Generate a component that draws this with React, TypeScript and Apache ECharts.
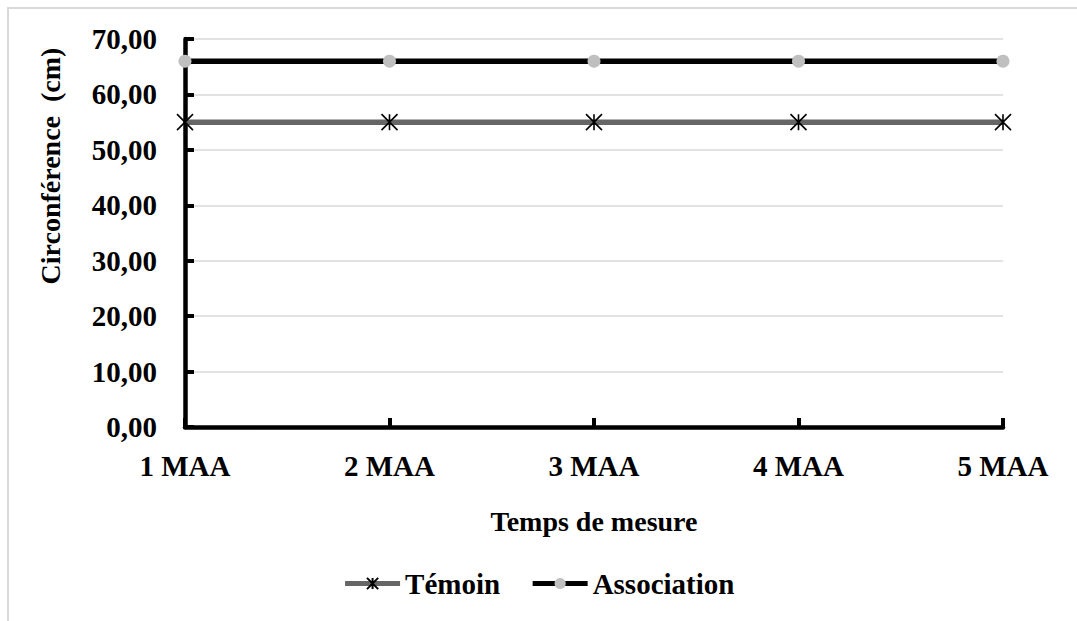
import React, { useEffect, useRef } from "react";
import * as echarts from "echarts";

const categories = ["1 MAA", "2 MAA", "3 MAA", "4 MAA", "5 MAA"];
const temoinValues = [55, 55, 55, 55, 55];
const associationValues = [66, 66, 66, 66, 66];
const yTicks = { min: 0, max: 70, interval: 10 };
const yTitle = "Circonférence  (cm)";
const xTitle = "Temps de mesure";

const FONT = "Liberation Serif, serif";
const ASTERISK = "path://M0,0L10,10M0,10L10,0M5,0L5,10";

export default function App() {
  const ref = useRef<HTMLDivElement>(null);

  useEffect(() => {
    if (!ref.current) return;
    const chart = echarts.init(ref.current, undefined, { renderer: "svg" });
    const txt = { fontFamily: FONT, fontWeight: "bold" as const, fontSize: 29, color: "#000" };
    chart.setOption({
      animation: false,
      backgroundColor: "#ffffff",
      textStyle: { fontFamily: FONT },
      graphic: [
        {
          type: "rect",
          shape: { x: 8, y: 8, width: 1200, height: 800 },
          style: { fill: "none", stroke: "#d9d9d9", lineWidth: 2 },
          silent: true,
          z: -1,
        },
        {
          type: "text",
          x: 50,
          y: 166,
          rotation: Math.PI / 2,
          style: {
            text: yTitle,
            fill: "#000",
            font: `bold 28px ${FONT}`,
            align: "center",
            verticalAlign: "middle",
          },
        },
      ],
      grid: { left: 185, right: 74, top: 39, bottom: 194, containLabel: false },
      legend: {
        bottom: 18,
        left: "center",
        itemWidth: 55,
        itemHeight: 14,
        itemGap: 30,
        textStyle: txt,
        lineStyle: { width: 5 },
        data: ["Témoin", "Association"],
      },
      xAxis: {
        type: "category",
        data: categories,
        boundaryGap: false,
        name: xTitle,
        nameLocation: "middle",
        nameGap: 80,
        nameTextStyle: { ...txt, fontSize: 28 },
        axisLine: { lineStyle: { color: "#000", width: 4.5 } },
        axisTick: { inside: true, length: 9, lineStyle: { color: "#000", width: 4 } },
        axisLabel: { ...txt, margin: 24 },
        splitLine: { show: false },
      },
      yAxis: {
        type: "value",
        min: yTicks.min,
        max: yTicks.max,
        interval: yTicks.interval,
        axisLine: { show: true, lineStyle: { color: "#000", width: 4.5 } },
        axisTick: { show: true, inside: true, length: 9, lineStyle: { color: "#000", width: 4 } },
        axisLabel: {
          ...txt,
          margin: 28,
          formatter: (v: number) => v.toFixed(2).replace(".", ","),
        },
        splitLine: { show: true, lineStyle: { color: "#d9d9d9", width: 1.5 } },
      },
      series: [
        {
          name: "Témoin",
          type: "line",
          data: temoinValues,
          symbol: ASTERISK,
          symbolSize: 16,
          lineStyle: { color: "#666666", width: 5.5 },
          itemStyle: { color: "none", borderColor: "#000", borderWidth: 1.6 },
          z: 3,
        },
        {
          name: "Association",
          type: "line",
          data: associationValues,
          symbol: "circle",
          symbolSize: 13,
          lineStyle: { color: "#000000", width: 5.5 },
          itemStyle: { color: "#bfbfbf", borderWidth: 0 },
          z: 4,
        },
      ],
    });
    return () => chart.dispose();
  }, []);

  return (
    <div
      ref={ref}
      style={{ position: "fixed", left: 0, top: 0, width: 1077, height: 621 }}
    />
  );
}
